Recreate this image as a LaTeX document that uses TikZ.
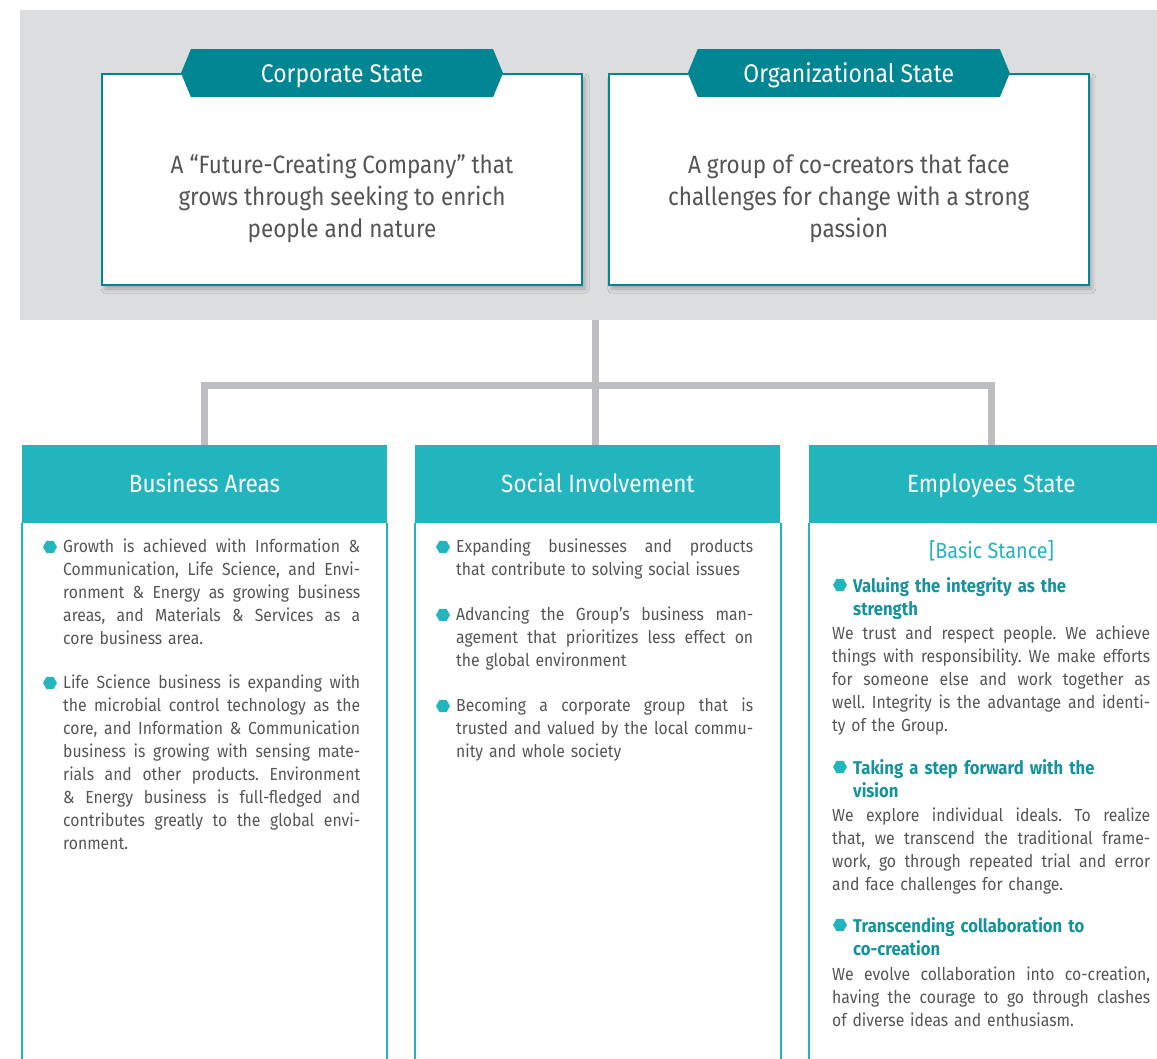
\documentclass[tikz,border=0pt]{standalone}
\usepackage{fontspec}
\setmainfont{Fira Sans}[FakeStretch=0.9]
\frenchspacing
\usetikzlibrary{positioning,shapes.geometric,shapes.symbols,shadows.blur}
\definecolor{ink}{HTML}{555558}
\definecolor{teal}{HTML}{008592}
\definecolor{aqua}{HTML}{22B5BE}
\definecolor{deepaqua}{HTML}{14939D}
\definecolor{panel}{HTML}{DCDDDF}
\definecolor{wire}{HTML}{BDBEC2}
% a justified line of a column text
\newcommand{\fillrow}[2][297pt]{\leavevmode\hbox to #1{\spaceskip=\fontdimen2\font plus 1fil\relax #2}}
\tikzset{
  every node/.style={font=\fontsize{17.5}{23}\selectfont, text=ink},
  statebox/.style={draw=teal, line width=1.8pt, fill=white, minimum width=480pt, minimum height=211pt, inner sep=0pt,
    blur shadow={shadow xshift=3pt, shadow yshift=-4pt, shadow opacity=25, shadow blur radius=4pt}},
  statetag/.style={signal, signal to=west and east, signal pointer angle=135, fill=teal, text=white, minimum width=322pt, minimum height=48pt, inner sep=0pt, text height=18pt, text depth=0pt, font=\fontsize{25.5}{28}\selectfont},
  statetext/.style={align=center, font=\fontsize{25}{32}\selectfont},
  colhead/.style={fill=aqua, text=white, minimum width=365pt, minimum height=78pt, inner sep=0pt, text height=17pt, text depth=0pt, font=\fontsize{25}{28}\selectfont},
  colline/.style={draw=aqua, line width=1.8pt},
  itemtext/.style={anchor=north west, inner sep=0pt, text width=297pt, align=left},
  bodytext/.style={itemtext, text width=318pt},
  hexdot/.style={regular polygon, regular polygon sides=6, fill=aqua, minimum size=14pt, inner sep=0pt},
  subhead/.style={anchor=north west, inner sep=0pt, text width=300pt, align=left, text=deepaqua, font=\fontsize{18.5}{23}\selectfont\bfseries},
  link/.style={draw=wire, line width=7pt},
}
\begin{document}
\begin{tikzpicture}[x=1pt, y=-1pt]
\clip (0,0) rectangle (1157,1059);
% upper panel
\node[fill=panel, minimum width=1150pt, minimum height=310pt, inner sep=0pt, anchor=north west] (frame) at (20,10) {};
\node[statebox] (corp) at (342,179.5) {};
\node[statebox, right=25pt of corp] (org) {};
\node[statetag] (corptag) at (corp.north) {Corporate State};
\node[statetag] (orgtag) at (org.north) {Organizational State};
\node[statetext] (corptext) at ([yshift=-19pt]corp.center) {A “Future-Creating Company” that\\grows through seeking to enrich\\people and nature};
\node[statetext] (orgtext) at ([yshift=-19pt]org.center) {A group of co-creators that face\\challenges for change with a strong\\passion};
% columns
\node[colhead] (biz) at (204.5,484) {Business Areas};
\node[colhead, right=28pt of biz] (soc) {Social Involvement};
\node[colhead, right=28pt of soc] (emp) {Employees State};
\foreach \c in {biz,soc,emp}{
  \draw[colline] (\c.south west) -- ++(0,560);
  \draw[colline] (\c.south east) -- ++(0,560);
}
% connectors
\coordinate (hub) at (frame.south |- 0,385);
\draw[link] (frame.south) -- (frame.south |- soc.north);
\draw[link] (biz.north) |- (hub) -| (emp.north);
% business areas
\node[itemtext] (grow) at (63,539) {\fillrow{Growth is achieved with Information \&}\\
  \fillrow{Communication, Life Science, and Envi-}\\
  \fillrow{ronment \& Energy as growing business}\\
  \fillrow{areas, and Materials \& Services as a}\\
  core business area.};
\node[hexdot] (growdot) at ([xshift=-13pt,yshift=-8pt]grow.north west) {};
\node[itemtext] (life) at (63,675) {\fillrow{Life Science business is expanding with}\\
  \fillrow{the microbial control technology as the}\\
  \fillrow{core, and Information \& Communication}\\
  \fillrow{business is growing with sensing mate-}\\
  \fillrow{rials and other products. Environment}\\
  \fillrow{\& Energy business is full-fledged and}\\
  \fillrow{contributes greatly to the global envi-}\\
  ronment.};
\node[hexdot] (lifedot) at ([xshift=-13pt,yshift=-8pt]life.north west) {};
% social involvement
\node[itemtext] (expand) at (456,539) {\fillrow{Expanding businesses and products}\\
  that contribute to solving social issues};
\node[hexdot] (expanddot) at ([xshift=-13pt,yshift=-8pt]expand.north west) {};
\node[itemtext] (advance) at (456,607) {\fillrow{Advancing the Group’s business man-}\\
  \fillrow{agement that prioritizes less effect on}\\
  the global environment};
\node[hexdot] (advancedot) at ([xshift=-13pt,yshift=-8pt]advance.north west) {};
\node[itemtext] (trust) at (456,698) {\fillrow{Becoming a corporate group that is}\\
  \fillrow{trusted and valued by the local commu-}\\
  nity and whole society};
\node[hexdot] (trustdot) at ([xshift=-13pt,yshift=-8pt]trust.north west) {};
% employees state
\node[text=aqua, font=\fontsize{22}{25}\selectfont] (stance) at (991.5,551) {[Basic Stance]};
\node[subhead] (valuing) at (853,577) {Valuing the integrity as the\\strength};
\node[hexdot] (valuingdot) at ([xshift=-13pt,yshift=-8pt]valuing.north west) {};
\node[bodytext] (valuingtxt) at (832,626) {\fillrow[318pt]{We trust and respect people. We achieve}\\
  \fillrow[318pt]{things with responsibility. We make efforts}\\
  \fillrow[318pt]{for someone else and work together as}\\
  \fillrow[318pt]{well. Integrity is the advantage and identi-}\\
  ty of the Group.};
\node[subhead] (stepping) at (853,759) {Taking a step forward with the\\vision};
\node[hexdot] (steppingdot) at ([xshift=-13pt,yshift=-8pt]stepping.north west) {};
\node[bodytext] (steppingtxt) at (832,808) {\fillrow[318pt]{We explore individual ideals. To realize}\\
  \fillrow[318pt]{that, we transcend the traditional frame-}\\
  \fillrow[318pt]{work, go through repeated trial and error}\\
  and face challenges for change.};
\node[subhead] (cocreate) at (853,917) {Transcending collaboration to\\co-creation};
\node[hexdot] (cocreatedot) at ([xshift=-13pt,yshift=-8pt]cocreate.north west) {};
\node[bodytext] (cocreatetxt) at (832,967) {\fillrow[318pt]{We evolve collaboration into co-creation,}\\
  \fillrow[318pt]{having the courage to go through clashes}\\
  of diverse ideas and enthusiasm.};
\end{tikzpicture}
\end{document}
